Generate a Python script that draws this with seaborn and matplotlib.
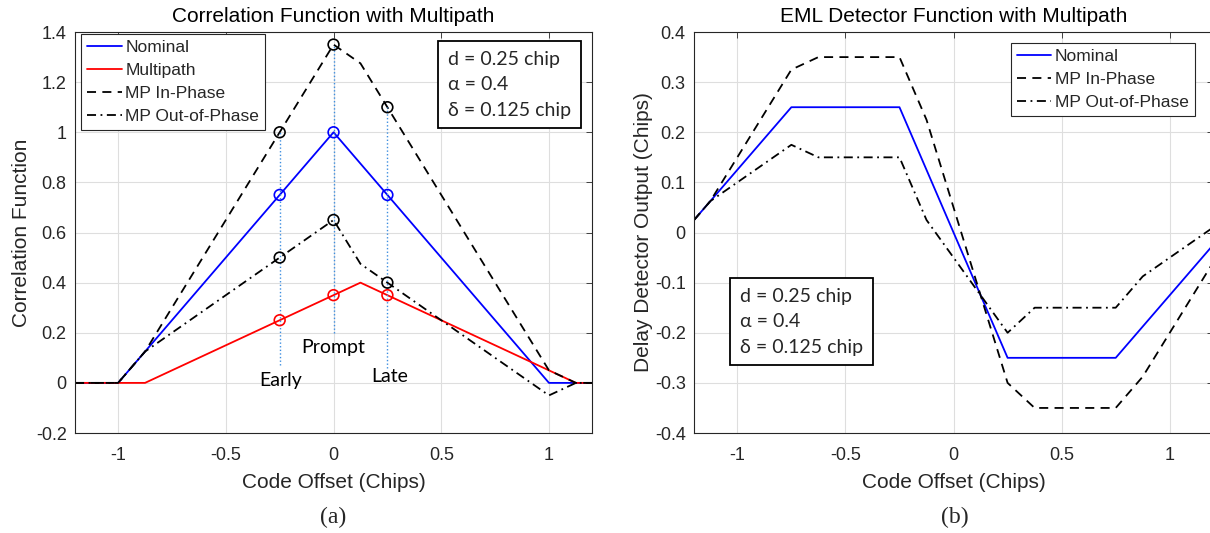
import numpy as np
import pandas as pd
import matplotlib
matplotlib.use("Agg")
import matplotlib.pyplot as plt
import seaborn as sns

# ---------------- data: (a) correlation function ----------------
x_nom = [-1.2, -1.0, 0.0, 1.0, 1.2]
y_nom = [0.0, 0.0, 1.0, 0.0, 0.0]
x_mp = [-1.2, -0.875, 0.125, 1.125, 1.2]
y_mp = [0.0, 0.0, 0.4, 0.0, 0.0]
x_comb = [-1.2, -1.0, -0.875, 0.0, 0.125, 1.0, 1.125, 1.2]
y_inphase = [0.0, 0.0, 0.125, 1.35, 1.275, 0.05, 0.0, 0.0]
y_outphase = [0.0, 0.0, 0.125, 0.65, 0.475, -0.05, 0.0, 0.0]

elp_x = [-0.25, 0.0, 0.25]
elp_nom = [0.75, 1.0, 0.75]
elp_mp = [0.25, 0.35, 0.35]
elp_in = [1.0, 1.35, 1.1]
elp_out = [0.5, 0.65, 0.4]
elp_line_bottom = [0.07, 0.2, 0.06]
elp_labels = ["Early", "Prompt", "Late"]
elp_label_x = [-0.245, 0.0, 0.26]
elp_label_y = [0.01, 0.14, 0.025]

# ---------------- data: (b) EML detector ----------------
x_eml_nom = [-1.2, -1.125, -0.75, -0.25, 0.25, 0.75, 1.125, 1.2]
y_eml_nom = [0.025, 0.0625, 0.25, 0.25, -0.25, -0.25, -0.0625, -0.025]
x_eml_mp = [-1.2, -1.125, -0.75, -0.625, -0.25, -0.125, 0.25, 0.375, 0.75, 0.875, 1.2]
y_eml_in = [0.025, 0.0625, 0.325, 0.35, 0.35, 0.225, -0.3, -0.35, -0.35, -0.2875, -0.06]
y_eml_out = [0.025, 0.0625, 0.175, 0.15, 0.15, 0.025, -0.2, -0.15, -0.15, -0.0875, 0.01]

xticks = [-1, -0.5, 0, 0.5, 1]
xticklabels = ["-1", "-0.5", "0", "0.5", "1"]
yticks_a = [-0.2, 0, 0.2, 0.4, 0.6, 0.8, 1.0, 1.2, 1.4]
yticklabels_a = ["-0.2", "0", "0.2", "0.4", "0.6", "0.8", "1", "1.2", "1.4"]
yticks_b = [-0.4, -0.3, -0.2, -0.1, 0, 0.1, 0.2, 0.3, 0.4]
yticklabels_b = ["-0.4", "-0.3", "-0.2", "-0.1", "0", "0.1", "0.2", "0.3", "0.4"]

param_text = "d = 0.25 chip\n\u03b1 = 0.4\n\u03b4 = 0.125 chip"

# ---------------- style ----------------
sns.set_style("white")
plt.rcParams["font.family"] = ["Liberation Sans", "DejaVu Sans"]
plt.rcParams["axes.unicode_minus"] = False

DARK = "#262626"
GRID = "#dedede"
BLUE = "#0000ff"
RED = "#ff0000"
DOT_BLUE = "#3d8ee0"
LW = 1.3
DASH = (5, 3.5)
DASHDOT = (5, 2.5, 1, 2.5)

fig = plt.figure(figsize=(12.1, 5.33), dpi=100)
ax1 = fig.add_axes([0.062, 0.1876, 0.4273, 0.7523])
ax2 = fig.add_axes([0.5736, 0.1876, 0.4289, 0.7523])


def style_axes(ax, yticks, yticklabels, ylim):
    ax.set_xlim(-1.2, 1.2)
    ax.set_ylim(*ylim)
    ax.set_xticks(xticks)
    ax.set_xticklabels(xticklabels)
    ax.set_yticks(yticks)
    ax.set_yticklabels(yticklabels)
    ax.grid(True, color=GRID, lw=0.8)
    ax.set_axisbelow(True)
    for s in ax.spines.values():
        s.set_visible(True)
        s.set_color(DARK)
        s.set_linewidth(0.8)
    ax.tick_params(direction="in", length=4, width=0.6, color=DARK,
                   top=True, right=True, labelsize=13, labelcolor=DARK)
    ax.tick_params(axis="x", pad=10)
    ax.tick_params(axis="y", pad=6)


def line(ax, x, y, color, label=None, dashes=None):
    df = pd.DataFrame({"x": x, "y": y})
    sns.lineplot(data=df, x="x", y="y", ax=ax, color=color, lw=LW,
                 sort=False, estimator=None, label=label, legend=False)
    ln = ax.lines[-1]
    if dashes is not None:
        ln.set_dashes(dashes)
    return ln


def markers(ax, x, y, color):
    sns.scatterplot(x=x, y=y, ax=ax, marker="o", s=60, facecolors="none",
                    edgecolor=color, linewidth=1.2, zorder=5, legend=False)


# ---------------- (a) ----------------
h1 = line(ax1, x_nom, y_nom, BLUE, "Nominal")
h2 = line(ax1, x_mp, y_mp, RED, "Multipath")
h3 = line(ax1, x_comb, y_inphase, "black", "MP In-Phase", DASH)
h4 = line(ax1, x_comb, y_outphase, "black", "MP Out-of-Phase", DASHDOT)

for xe, yb, yt in zip(elp_x, elp_line_bottom, elp_in):
    ax1.plot([xe, xe], [yb, yt], color=DOT_BLUE, lw=1.0, ls=(0, (1, 1.6)), zorder=3)

markers(ax1, elp_x, elp_nom, BLUE)
markers(ax1, elp_x, elp_mp, RED)
markers(ax1, elp_x, elp_in, "black")
markers(ax1, elp_x, elp_out, "black")

for lx, ly, lt in zip(elp_label_x, elp_label_y, elp_labels):
    ax1.text(lx, ly, lt, ha="center", va="center", fontsize=14,
             family=["Lato", "DejaVu Sans"], color="black")

style_axes(ax1, yticks_a, yticklabels_a, (-0.2, 1.4))
ax1.set_title("Correlation Function with Multipath", fontsize=15, color="black", pad=7)
ax1.set_xlabel("Code Offset (Chips)", fontsize=15, color=DARK)
ax1.set_ylabel("Correlation Function", fontsize=15, color=DARK)
ax1.xaxis.set_label_coords(0.5, -0.1)
ax1.yaxis.set_label_coords(-0.086, 0.5)

leg_kw = dict(borderaxespad=0, fontsize=12.5, frameon=True, fancybox=False,
              framealpha=1, edgecolor=DARK, handlelength=2.0, handletextpad=0.2,
              labelspacing=0.45, borderpad=0.35)

leg1 = ax1.legend(handles=[h1, h2, h3, h4], loc="upper left",
                  bbox_to_anchor=(0.0116, 0.995), **leg_kw)
leg1.get_frame().set_linewidth(0.8)

box_kw = dict(boxstyle="square,pad=0.5", fc="white", ec="black", lw=1.3)

ax1.text(0.7215, 0.953, param_text, transform=ax1.transAxes, ha="left", va="top",
         fontsize=14, family=["Lato", "Liberation Serif"], linespacing=1.6,
         bbox=box_kw, zorder=10)

# ---------------- (b) ----------------
g1 = line(ax2, x_eml_nom, y_eml_nom, BLUE, "Nominal")
g2 = line(ax2, x_eml_mp, y_eml_in, "black", "MP In-Phase", DASH)
g3 = line(ax2, x_eml_mp, y_eml_out, "black", "MP Out-of-Phase", DASHDOT)

style_axes(ax2, yticks_b, yticklabels_b, (-0.4, 0.4))
ax2.set_title("EML Detector Function with Multipath", fontsize=15, color="black", pad=7)
ax2.set_xlabel("Code Offset (Chips)", fontsize=15, color=DARK)
ax2.set_ylabel("Delay Detector Output (Chips)", fontsize=15, color=DARK)
ax2.xaxis.set_label_coords(0.5, -0.1)
ax2.yaxis.set_label_coords(-0.08, 0.5)

leg2 = ax2.legend(handles=[g1, g2, g3], loc="upper right",
                  bbox_to_anchor=(0.965, 0.9726), **leg_kw)
leg2.get_frame().set_linewidth(0.8)

ax2.text(0.0886, 0.362, param_text, transform=ax2.transAxes, ha="left", va="top",
         fontsize=14, family=["Lato", "Liberation Serif"], linespacing=1.6,
         bbox=box_kw, zorder=10)

# captions
fig.text(333 / 1210, 1 - 517 / 533, "(a)", ha="center", va="center",
         fontsize=17, family=["Liberation Serif"])
fig.text(955 / 1210, 1 - 517 / 533, "(b)", ha="center", va="center",
         fontsize=17, family=["Liberation Serif"])

fig.savefig("out.png", dpi=100)
